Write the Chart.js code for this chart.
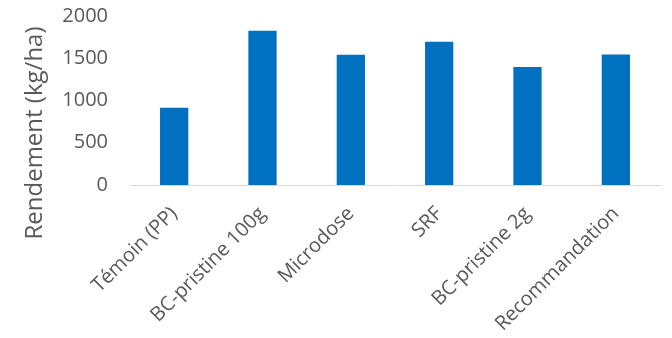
<!DOCTYPE html>
<html>
<head>
<meta charset="utf-8">
<script src="https://cdn.jsdelivr.net/npm/chart.js@4/dist/chart.umd.min.js"></script>
<style>
  html, body { margin: 0; padding: 0; background: #fff; overflow: hidden; }
  #frame { width: 672px; height: 338px; position: relative; overflow: hidden; }
  /* canvas is a bit taller than the frame: Chart.js keeps extra room above the plot */
  #wrap { position: absolute; left: 0; top: -18px; width: 672px; height: 356px; }
</style>
</head>
<body>
<div id="frame"><div id="wrap"><canvas id="chart"></canvas></div></div>
<script>
const CATEGORIES = ["Témoin (PP)", "BC-pristine 100g", "Microdose", "SRF", "BC-pristine 2g", "Recommandation"];
const RENDEMENT = [915, 1825, 1540, 1695, 1395, 1545];
const Y_TICKS = [0, 500, 1000, 1500, 2000];
const Y_TITLE = "Rendement (kg/ha)";

const FONT = "'Open Sans', sans-serif";
const TEXT = "#595959";

// axis title drawn by hand so it can sit where Excel puts it (a bit below the plot centre)
const yTitle = {
  id: "yTitle",
  afterDraw(chart) {
    const ctx = chart.ctx;
    ctx.save();
    ctx.translate(35, 133 + 18);
    ctx.rotate(-Math.PI / 2);
    ctx.font = `24px ${FONT}`;
    ctx.fillStyle = TEXT;
    ctx.textAlign = "center";
    ctx.textBaseline = "middle";
    ctx.fillText(Y_TITLE, 0, 0);
    ctx.restore();
  }
};

new Chart(document.getElementById("chart"), {
  type: "bar",
  data: {
    labels: CATEGORIES,
    datasets: [{
      data: RENDEMENT,
      backgroundColor: "#0070C0",
      barPercentage: 0.64,
      categoryPercentage: 0.5
    }]
  },
  options: {
    responsive: true,
    maintainAspectRatio: false,
    animation: false,
    layout: { padding: { top: 0, right: 12, left: 0, bottom: 0 } },
    plugins: { legend: { display: false }, tooltip: { enabled: false } },
    scales: {
      x: {
        grid: { display: false, drawTicks: false },
        border: { color: "#D9D9D9", width: 1 },
        ticks: {
          color: TEXT,
          font: { family: FONT, size: 20 },
          minRotation: 45,
          maxRotation: 45,
          padding: 17,
          autoSkip: false
        },
        afterFit: scale => { scale.height = 153; }
      },
      y: {
        min: 0,
        max: 2000,
        afterBuildTicks: scale => { scale.ticks = Y_TICKS.map(v => ({ value: v })); },
        grid: { display: false, drawTicks: false },
        border: { display: false },
        ticks: { color: TEXT, font: { family: FONT, size: 20 }, padding: 22, callback: v => String(v) },
        afterFit: scale => { scale.width = 130; }
      }
    }
  },
  plugins: [yTitle]
});
</script>
</body>
</html>
